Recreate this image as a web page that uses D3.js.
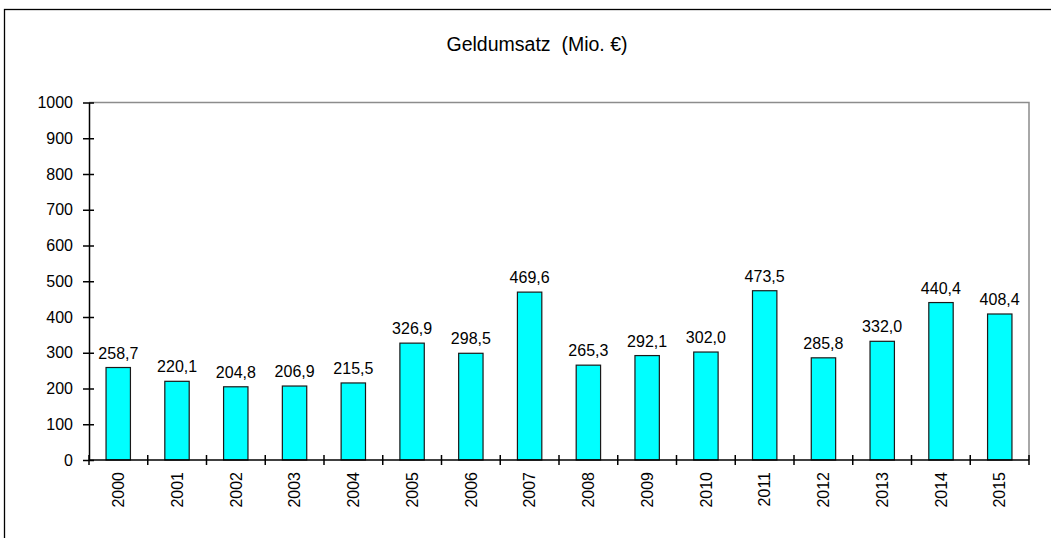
<!DOCTYPE html>
<html>
<head>
<meta charset="utf-8">
<script src="https://cdn.jsdelivr.net/npm/d3@7"></script>
<style>
  body { margin: 0; background: #fff; }
  text { font-family: "Liberation Sans", Arial, sans-serif; fill: #000; }
</style>
</head>
<body>
<script>
var years = ["2000","2001","2002","2003","2004","2005","2006","2007","2008","2009","2010","2011","2012","2013","2014","2015"];
var umsatz = [258.7, 220.1, 204.8, 206.9, 215.5, 326.9, 298.5, 469.6, 265.3, 292.1, 302.0, 473.5, 285.8, 332.0, 440.4, 408.4];
var yTicks = [0, 100, 200, 300, 400, 500, 600, 700, 800, 900, 1000];
var title = "Geldumsatz\u00a0 (Mio. \u20ac)";

var width = 1051;
var height = 538;
var plotLeft = 89, plotRight = 1029, plotTop = 102.5, plotBottom = 460;

var svg = d3.select("body")
            .append("svg")
            .attr("width", width)
            .attr("height", height);

// outer frame (right/bottom edges fall outside the picture)
svg.append("rect")
   .attr("x", 4.5)
   .attr("y", 9.5)
   .attr("width", 1060)
   .attr("height", 560)
   .attr("fill", "none")
   .attr("stroke", "#000")
   .attr("stroke-width", 1.3);

var x = d3.scaleBand()
          .domain(years)
          .range([plotLeft, plotRight])
          .paddingInner(0.585)
          .paddingOuter(0.29);

var xCat = d3.scaleBand()
             .domain(years)
             .range([plotLeft, plotRight]);

var y = d3.scaleLinear()
          .domain([0, 1000])
          .range([plotBottom, plotTop]);

// title
svg.append("text")
   .attr("x", 537)
   .attr("y", 51)
   .attr("text-anchor", "middle")
   .style("font-size", "19.5px")
   .text(title);

// grey plot frame top + right
svg.append("path")
   .attr("d", "M" + plotLeft + "," + plotTop + "H" + plotRight + "V" + plotBottom)
   .attr("fill", "none")
   .attr("stroke", "#8c8c8c")
   .attr("stroke-width", 1.5);

// bars
svg.selectAll(".bar")
   .data(umsatz)
   .enter()
     .append("rect")
     .attr("class", "bar")
     .attr("x", function(d, i){ return x(years[i]); })
     .attr("width", x.bandwidth())
     .attr("y", function(d){ return y(d); })
     .attr("height", function(d){ return plotBottom - y(d); })
     .attr("fill", "#00ffff")
     .attr("stroke", "#1a1a1a")
     .attr("stroke-width", 1.2);

// value labels
svg.selectAll(".val")
   .data(umsatz)
   .enter()
     .append("text")
     .attr("class", "val")
     .attr("x", function(d, i){ return xCat(years[i]) + xCat.bandwidth() / 2; })
     .attr("y", function(d){ return y(d) - 9; })
     .attr("text-anchor", "middle")
     .style("font-size", "16px")
     .text(function(d){ return d.toFixed(1).replace(".", ","); });

// y axis
var yAxis = d3.axisLeft(y)
              .tickValues(yTicks)
              .tickFormat(d3.format("d"))
              .tickSizeInner(5)
              .tickSizeOuter(0)
              .tickPadding(11);

var gy = svg.append("g")
            .attr("transform", "translate(" + plotLeft + ",0)")
            .call(yAxis);
gy.selectAll(".tick line").attr("x2", 5).attr("x1", -6).attr("stroke", "#000").attr("stroke-width", 1.5);
gy.select(".domain").attr("stroke", "#000").attr("stroke-width", 1.5);
gy.selectAll(".tick text")
  .attr("x", -16)
  .style("font-size", "16px")
  .style("font-family", "'Liberation Sans', Arial, sans-serif");

// x axis: line + ticks at category boundaries
svg.append("line")
   .attr("x1", plotLeft).attr("x2", plotRight)
   .attr("y1", plotBottom).attr("y2", plotBottom)
   .attr("stroke", "#000")
   .attr("stroke-width", 1.5);

var bounds = years.map(function(d){ return xCat(d); }).concat([plotRight]);
svg.selectAll(".xtick")
   .data(bounds)
   .enter()
     .append("line")
     .attr("class", "xtick")
     .attr("x1", function(d){ return d; })
     .attr("x2", function(d){ return d; })
     .attr("y1", plotBottom - 5)
     .attr("y2", plotBottom + 5)
     .attr("stroke", "#000")
     .attr("stroke-width", 1.5);

svg.selectAll(".xlab")
   .data(years)
   .enter()
     .append("text")
     .attr("class", "xlab")
     .attr("transform", function(d){
       return "translate(" + (xCat(d) + xCat.bandwidth() / 2) + "," + 472 + ") rotate(-90)";
     })
     .attr("dy", "0.36em")
     .attr("text-anchor", "end")
     .style("font-size", "16px")
     .text(function(d){ return d; });
</script>
</body>
</html>
